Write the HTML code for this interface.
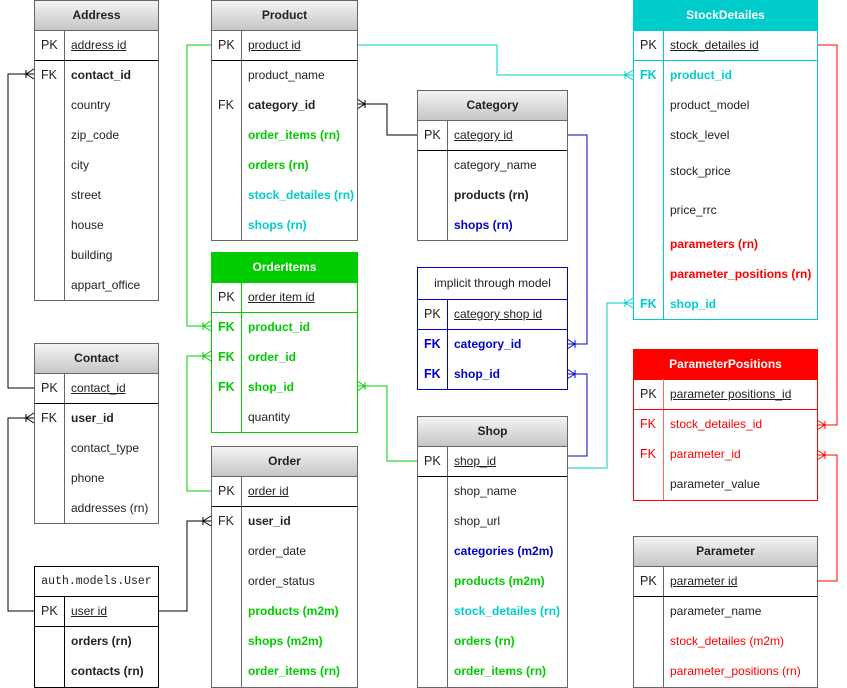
<!DOCTYPE html>
<html><head><meta charset="utf-8"><style>
body{margin:0;width:847px;height:688px;background:#fff;position:relative;overflow:hidden;font-family:"Liberation Sans",Arial,sans-serif;font-size:12px;color:#222}
.t{position:absolute;box-sizing:border-box;border:1px solid #666;background:#fff}
.h{position:absolute;left:0;right:0;top:0;height:29px;line-height:29px;text-align:center;font-weight:bold;font-size:12px;background:linear-gradient(#f4f4f4,#c6c6c6);border-bottom:1px solid #666}
.r{position:absolute;left:0;right:0;height:30px;line-height:30px;white-space:nowrap}
.k{position:absolute;left:6px;font-size:12.5px}
.n{position:absolute;left:36px}
.v{position:absolute;left:29px;top:29px;bottom:0;width:1px;background:#666}
.s{position:absolute;left:0;right:0;height:1px;background:#000}
.u{text-decoration:underline}
.b{font-weight:bold}
.g{color:#00CC00;font-weight:bold}
.c{color:#00CCCC;font-weight:bold}
.bl{color:#0000CC;font-weight:bold}
.rd{color:#FF0000;font-weight:bold}
svg{position:absolute;left:0;top:0}
</style></head><body>
<svg width="847" height="688" fill="none" stroke-width="1">
<g stroke="#000">
<path d="M34 388H8V74H34M26 70V78M26 74L34 69M26 74L34 79"/>
<path d="M34 611H8V418H34M26 414V422M26 418L34 413M26 418L34 423"/>
<path d="M158 611H187V521H211M203 517V525M203 521L211 516M203 521L211 526"/>
<path d="M417 135H387V104H357M365 100V108M365 104L357 99M365 104L357 109"/>
</g>
<g stroke="#00CC00">
<path d="M211 45H187V326H211M203 322V330M203 326L211 321M203 326L211 331"/>
<path d="M211 491H187V356H211M203 352V360M203 356L211 351M203 356L211 361"/>
<path d="M417 461H387V386H357M365 382V390M365 386L357 381M365 386L357 391"/>
</g>
<g stroke="#00CCCC">
<path d="M357 45H497V75H633M625 71V79M625 75L633 70M625 75L633 80"/>
<path d="M567 468H607V303H633M625 299V307M625 303L633 298M625 303L633 308"/>
</g>
<g stroke="#0000CC">
<path d="M567 135H587V344H567M575 340V348M575 344L567 339M575 344L567 349"/>
<path d="M567 456H587V374H567M575 370V378M575 374L567 369M575 374L567 379"/>
</g>
<g stroke="#FF0000">
<path d="M817 45H837V425H817M825 421V429M825 425L817 420M825 425L817 430"/>
<path d="M817 581H837V455H817M825 451V459M825 455L817 450M825 455L817 460"/>
</g>
</svg>

<div class="t" style="left:34px;top:0;width:125px;height:301px">
<div class="h">Address</div><div class="v"></div><div class="s" style="top:59px"></div>
<div class="r" style="top:29px"><span class="k">PK</span><span class="n u">address id</span></div>
<div class="r" style="top:59px"><span class="k">FK</span><span class="n b">contact_id</span></div>
<div class="r" style="top:89px"><span class="n">country</span></div>
<div class="r" style="top:119px"><span class="n">zip_code</span></div>
<div class="r" style="top:149px"><span class="n">city</span></div>
<div class="r" style="top:179px"><span class="n">street</span></div>
<div class="r" style="top:209px"><span class="n">house</span></div>
<div class="r" style="top:239px"><span class="n">building</span></div>
<div class="r" style="top:269px"><span class="n">appart_office</span></div>
</div>

<div class="t" style="left:211px;top:0;width:147px;height:241px">
<div class="h">Product</div><div class="v"></div><div class="s" style="top:59px"></div>
<div class="r" style="top:29px"><span class="k">PK</span><span class="n u">product id</span></div>
<div class="r" style="top:59px"><span class="n">product_name</span></div>
<div class="r" style="top:89px"><span class="k">FK</span><span class="n b">category_id</span></div>
<div class="r" style="top:119px"><span class="n g">order_items (rn)</span></div>
<div class="r" style="top:149px"><span class="n g">orders (rn)</span></div>
<div class="r" style="top:179px"><span class="n c">stock_detailes (rn)</span></div>
<div class="r" style="top:209px"><span class="n c">shops (rn)</span></div>
</div>

<div class="t" style="left:417px;top:90px;width:151px;height:151px">
<div class="h">Category</div><div class="v"></div><div class="s" style="top:59px"></div>
<div class="r" style="top:29px"><span class="k">PK</span><span class="n u">category id</span></div>
<div class="r" style="top:59px"><span class="n">category_name</span></div>
<div class="r" style="top:89px"><span class="n b">products (rn)</span></div>
<div class="r" style="top:119px"><span class="n bl">shops (rn)</span></div>
</div>

<div class="t" style="left:633px;top:0;width:185px;height:320px;border-color:#00CCCC">
<div class="h" style="background:#00CCCC;color:#fff;border-color:#00CCCC">StockDetailes</div><div class="v" style="background:#00CCCC"></div><div class="s" style="top:59px;background:#00CCCC"></div>
<div class="r" style="top:29px"><span class="k">PK</span><span class="n u">stock_detailes id</span></div>
<div class="r" style="top:59px"><span class="k c">FK</span><span class="n c">product_id</span></div>
<div class="r" style="top:89px"><span class="n">product_model</span></div>
<div class="r" style="top:119px"><span class="n">stock_level</span></div>
<div class="r" style="top:155px"><span class="n">stock_price</span></div>
<div class="r" style="top:194px"><span class="n">price_rrc</span></div>
<div class="r" style="top:228px"><span class="n rd">parameters (rn)</span></div>
<div class="r" style="top:258px"><span class="n rd">parameter_positions (rn)</span></div>
<div class="r" style="top:288px"><span class="k c">FK</span><span class="n c">shop_id</span></div>
</div>

<div class="t" style="left:211px;top:252px;width:147px;height:181px;border-color:#00CC00">
<div class="h" style="background:#00CC00;color:#fff;border-color:#00CC00">OrderItems</div><div class="v" style="background:#00CC00"></div><div class="s" style="top:59px;background:#00CC00"></div>
<div class="r" style="top:29px"><span class="k">PK</span><span class="n u">order item id</span></div>
<div class="r" style="top:59px"><span class="k g">FK</span><span class="n g">product_id</span></div>
<div class="r" style="top:89px"><span class="k g">FK</span><span class="n g">order_id</span></div>
<div class="r" style="top:119px"><span class="k g">FK</span><span class="n g">shop_id</span></div>
<div class="r" style="top:149px"><span class="n">quantity</span></div>
</div>

<div class="t" style="left:417px;top:267px;width:151px;height:123px;border-color:#0000CC">
<div class="h" style="background:#fff;font-weight:normal;border-color:#0000CC;height:31px;line-height:31px">implicit through model</div><div class="v" style="background:#0000CC;top:31px"></div><div class="s" style="top:61px;background:#0000CC"></div>
<div class="r" style="top:31px"><span class="k">PK</span><span class="n u">category shop id</span></div>
<div class="r" style="top:61px"><span class="k bl">FK</span><span class="n bl">category_id</span></div>
<div class="r" style="top:91px"><span class="k bl">FK</span><span class="n bl">shop_id</span></div>
</div>

<div class="t" style="left:34px;top:343px;width:125px;height:181px">
<div class="h">Contact</div><div class="v"></div><div class="s" style="top:59px"></div>
<div class="r" style="top:29px"><span class="k">PK</span><span class="n u">contact_id</span></div>
<div class="r" style="top:59px"><span class="k">FK</span><span class="n b">user_id</span></div>
<div class="r" style="top:89px"><span class="n">contact_type</span></div>
<div class="r" style="top:119px"><span class="n">phone</span></div>
<div class="r" style="top:149px"><span class="n">addresses (rn)</span></div>
</div>

<div class="t" style="left:211px;top:446px;width:147px;height:242px">
<div class="h">Order</div><div class="v"></div><div class="s" style="top:59px"></div>
<div class="r" style="top:29px"><span class="k">PK</span><span class="n u">order id</span></div>
<div class="r" style="top:59px"><span class="k">FK</span><span class="n b">user_id</span></div>
<div class="r" style="top:89px"><span class="n">order_date</span></div>
<div class="r" style="top:119px"><span class="n">order_status</span></div>
<div class="r" style="top:149px"><span class="n g">products (m2m)</span></div>
<div class="r" style="top:179px"><span class="n g">shops (m2m)</span></div>
<div class="r" style="top:209px"><span class="n g">order_items (rn)</span></div>
</div>

<div class="t" style="left:417px;top:416px;width:151px;height:272px">
<div class="h">Shop</div><div class="v"></div><div class="s" style="top:59px"></div>
<div class="r" style="top:29px"><span class="k">PK</span><span class="n u">shop_id</span></div>
<div class="r" style="top:59px"><span class="n">shop_name</span></div>
<div class="r" style="top:89px"><span class="n">shop_url</span></div>
<div class="r" style="top:119px"><span class="n bl">categories (m2m)</span></div>
<div class="r" style="top:149px"><span class="n g">products (m2m)</span></div>
<div class="r" style="top:179px"><span class="n c">stock_detailes (rn)</span></div>
<div class="r" style="top:209px"><span class="n g">orders (rn)</span></div>
<div class="r" style="top:239px"><span class="n g">order_items (rn)</span></div>
</div>

<div class="t" style="left:633px;top:349px;width:185px;height:152px;border-color:#FF0000">
<div class="h" style="background:#FF0000;color:#fff;border-color:#FF0000">ParameterPositions</div><div class="v" style="background:#FF6666"></div><div class="s" style="top:59px;background:#FF0000"></div>
<div class="r" style="top:29px"><span class="k">PK</span><span class="n u">parameter positions_id</span></div>
<div class="r" style="top:59px"><span class="k" style="color:#f00">FK</span><span class="n" style="color:#f00">stock_detailes_id</span></div>
<div class="r" style="top:89px"><span class="k" style="color:#f00">FK</span><span class="n" style="color:#f00">parameter_id</span></div>
<div class="r" style="top:119px"><span class="n">parameter_value</span></div>
</div>

<div class="t" style="left:34px;top:566px;width:125px;height:122px;border-color:#000">
<div class="h" style="background:#fff;font-weight:normal;border-color:#000;font-family:'Liberation Mono',monospace;font-size:11.5px">auth.models.User</div><div class="v" style="background:#000"></div><div class="s" style="top:59px"></div>
<div class="r" style="top:29px"><span class="k">PK</span><span class="n u">user id</span></div>
<div class="r" style="top:59px"><span class="n b">orders (rn)</span></div>
<div class="r" style="top:89px"><span class="n b">contacts (rn)</span></div>
</div>

<div class="t" style="left:633px;top:536px;width:185px;height:152px">
<div class="h">Parameter</div><div class="v"></div><div class="s" style="top:59px"></div>
<div class="r" style="top:29px"><span class="k">PK</span><span class="n u">parameter id</span></div>
<div class="r" style="top:59px"><span class="n">parameter_name</span></div>
<div class="r" style="top:89px"><span class="n" style="color:#f00">stock_detailes (m2m)</span></div>
<div class="r" style="top:119px"><span class="n" style="color:#f00">parameter_positions (rn)</span></div>
</div>
</body></html>
